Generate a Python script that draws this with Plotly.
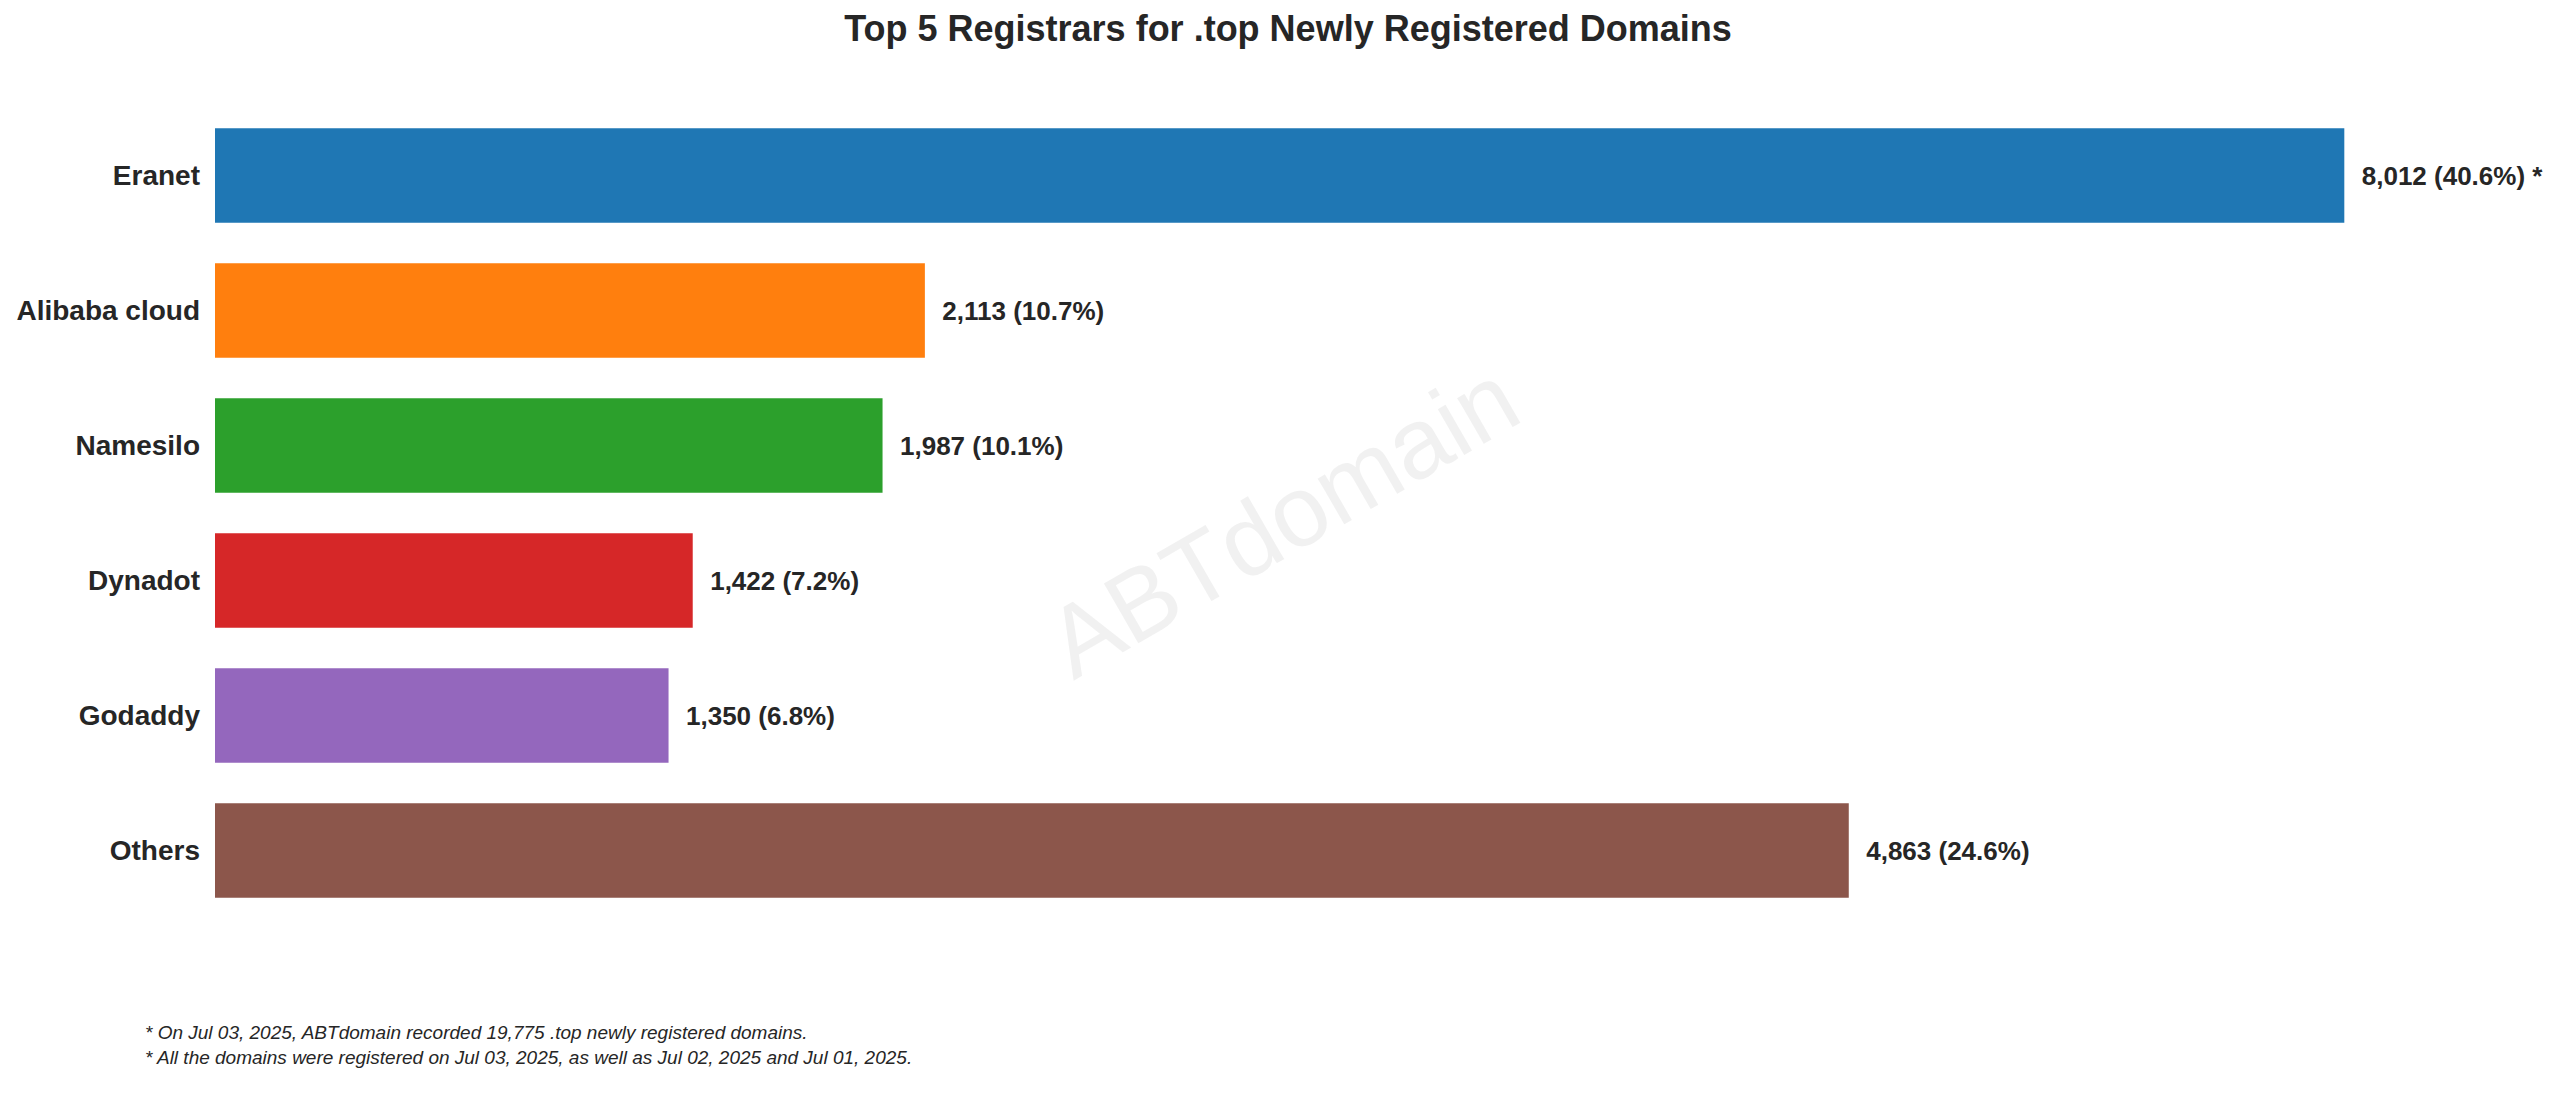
import plotly.graph_objects as go

registrars = ["Eranet", "Alibaba cloud", "Namesilo", "Dynadot", "Godaddy", "Others"]
counts = [8012, 2113, 1987, 1422, 1350, 4863]
shares = [40.6, 10.7, 10.1, 7.2, 6.8, 24.6]
suffix = [" *", "", "", "", "", ""]
colors = ["#1f77b4", "#ff7f0e", "#2ca02c", "#d62728", "#9467bd", "#8c564b"]
bar_cap = 6338  # longest bar is drawn truncated in the reference (axis break)

labels = [f"  {c:,} ({s}%){x}" for c, s, x in zip(counts, shares, suffix)]
drawn = [min(c, bar_cap) for c in counts]

fig = go.Figure(go.Bar(
    x=drawn, y=registrars, orientation="h", width=0.7,
    marker=dict(color=colors, line=dict(width=0)),
    text=labels, textposition="outside", cliponaxis=False,
    textfont=dict(size=26, color="#262626", family="Liberation Sans"),
))
fig.update_traces(texttemplate="<b>%{text}</b>")
L, R, T, B = 204, 8, 100, 188
pw, ph = 2560 - L - R, 1098 - T - B
fig.update_layout(
    width=2560, height=1098,
    margin=dict(l=L, r=R, t=T, b=B),
    plot_bgcolor="white", paper_bgcolor="white",
    font=dict(family="Liberation Sans", color="#262626"),
    title=dict(text="<b>Top 5 Registrars for .top Newly Registered Domains</b>",
               x=0.5, xanchor="center", y=0.981, yanchor="middle",
               font=dict(size=36, color="#262626")),
    xaxis=dict(range=[0, 6980], visible=False, showgrid=False),
    yaxis=dict(autorange=False, range=[5.5, -0.5], showgrid=False, showline=False,
               ticks="", ticklabelstandoff=14,
               tickfont=dict(size=28, color="#262626", family="Liberation Sans"),
               tickvals=registrars, ticktext=[f"<b>{r}</b>" for r in registrars]),
    showlegend=False,
    annotations=[
        dict(text="ABTdomain", x=(1272 - L) / pw, y=1 - (512 - T) / ph,
             xref="paper", yref="paper", showarrow=False,
             textangle=-30, font=dict(size=100, color="rgba(200,200,200,0.25)")),
        dict(text="<i>* On Jul 03, 2025, ABTdomain recorded 19,775 .top newly registered domains.<br>"
                  "* All the domains were registered on Jul 03, 2025, as well as Jul 02, 2025 and Jul 01, 2025.</i>",
             x=(132 - L) / pw, y=1 - (1037 - T) / ph, xref="paper", yref="paper", showarrow=False,
             xanchor="left", yanchor="middle", align="left",
             font=dict(size=19, color="#262626")),
    ],
)
fig.write_html("out.html")
